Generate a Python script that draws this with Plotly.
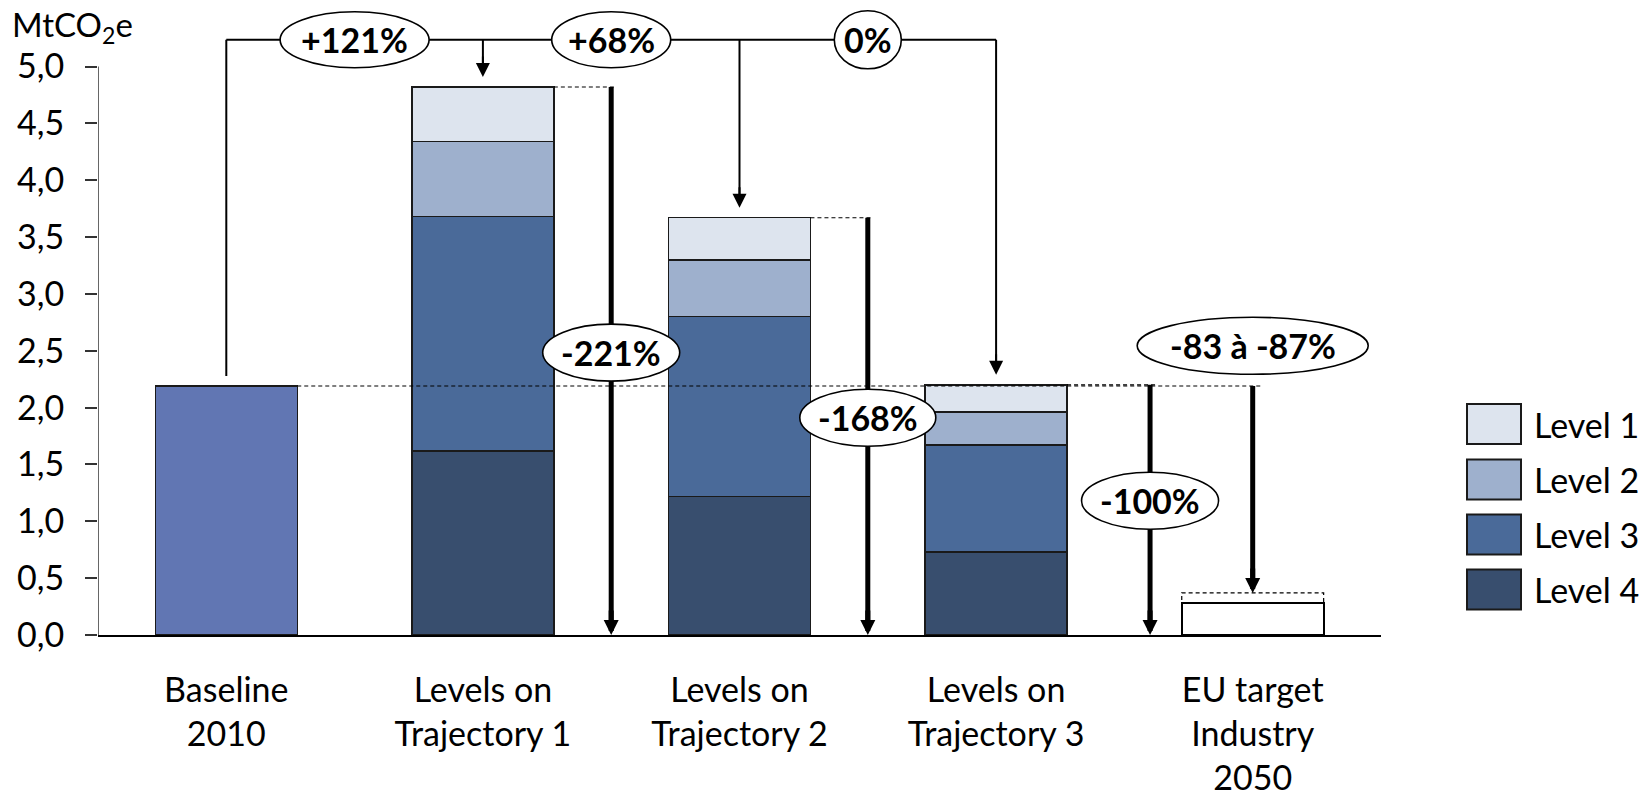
import plotly.graph_objects as go

# ---- data -------------------------------------------------------------
categories = [
    "Baseline<br>2010",
    "Levels on<br>Trajectory 1",
    "Levels on<br>Trajectory 2",
    "Levels on<br>Trajectory 3",
    "EU target<br>Industry<br>2050",
]
baseline_2010 = 2.19                      # MtCO2e
level_names = ["Level 1", "Level 2", "Level 3", "Level 4"]
# one value per trajectory (1, 2, 3)
level_1 = [0.48, 0.37, 0.24]
level_2 = [0.66, 0.50, 0.29]
level_3 = [2.06, 1.58, 0.94]
level_4 = [1.62, 1.22, 0.73]
eu_target_low = 0.285                     # -87 %
eu_target_high = 0.37                     # -83 %

y_tick_vals = [0.0, 0.5, 1.0, 1.5, 2.0, 2.5, 3.0, 3.5, 4.0, 4.5, 5.0]
y_tick_text = ["0,0", "0,5", "1,0", "1,5", "2,0", "2,5", "3,0", "3,5", "4,0", "4,5", "5,0"]

change_top = ["+121%", "+68%", "0%"]
change_down = ["-221%", "-168%", "-100%"]
change_eu = "-83 à -87%"

# ---- styling ----------------------------------------------------------
FONT = "Lato"
FS = 33
colors = {"Level 1": "#dde4ee", "Level 2": "#9eb0cd",
          "Level 3": "#4a6a99", "Level 4": "#384e6e"}
BASE_COLOR = "#6176b3"
EDGE = "#1a1a1a"
BARGAP = 0.447
HW = (1 - BARGAP) / 2                     # half bar width in category units

# plot-area geometry (pixels)
W, H = 1640, 797
ML, MR, MT, MB = 98, 259, 4, 162
PW, PH = W - ML - MR, H - MT - MB
Y_MAX = 5.55


def px_x(px):
    return (px - ML) / PW


def px_y(py):
    return (MT + PH - py) / PH


traj_x = categories[1:4]
series = {"Level 4": level_4, "Level 3": level_3, "Level 2": level_2, "Level 1": level_1}
totals = [a + b + c + d for a, b, c, d in zip(level_1, level_2, level_3, level_4)]

fig = go.Figure()

fig.add_trace(go.Bar(x=[categories[0]], y=[baseline_2010], marker=dict(
    color=BASE_COLOR, line=dict(color=EDGE, width=1.5)), name="Baseline"))

for name in ["Level 4", "Level 3", "Level 2", "Level 1"]:
    fig.add_trace(go.Bar(x=traj_x, y=series[name], name=name,
                         marker=dict(color=colors[name], line=dict(color=EDGE, width=1.5))))

fig.add_trace(go.Bar(x=[categories[4]], y=[eu_target_low], name="EU target",
                     marker=dict(color="white", line=dict(color="black", width=2))))

shapes = []


def line(x0, y0, x1, y1, width=2, dash=None, color="black"):
    d = dict(color=color, width=width)
    if dash:
        d["dash"] = dash
    shapes.append(dict(type="line", xref="x", yref="y", x0=x0, y0=y0, x1=x1, y1=y1, line=d))


# dashed range box of the EU target (behind the white bar)
shapes.append(dict(type="rect", xref="x", yref="y", layer="below",
                   x0=4 - HW, x1=4 + HW, y0=0, y1=eu_target_high,
                   line=dict(color="black", width=1.2, dash="4px,3px"), fillcolor="white"))

# y axis line
line(-0.5, 0, -0.5, 5, width=1.5, color="#333333")

# dashed reference levels
DASH = "4px,3px"
line(HW, baseline_2010, 4.035, baseline_2010, width=1.2, dash=DASH)
line(1 + HW, totals[0], 1.515, totals[0], width=1.2, dash=DASH)
line(2 + HW, totals[1], 2.515, totals[1], width=1.2, dash=DASH)
line(3 + HW, totals[2], 3.62, totals[2], width=1.2, dash=DASH)

# connectors across the top
GAP = 0.088
Y_LINK = 5.235
line(0, baseline_2010 + GAP, 0, Y_LINK)
line(0, Y_LINK, 3, Y_LINK)
line(1, Y_LINK, 1, totals[0] + GAP + 0.06)
line(2, Y_LINK, 2, totals[1] + GAP + 0.06)
line(3, Y_LINK, 3, totals[2] + GAP + 0.06)

# thick reduction arrows
drops = [(1.5, totals[0], 0.0), (2.5, totals[1], 0.0), (3.6, totals[2], 0.0),
         (4.0, baseline_2010, eu_target_high)]
for x, y_from, y_to in drops:
    line(x, y_from, x, y_to + 0.07, width=5)


def ellipse(xc, yc, w, h):
    shapes.append(dict(type="circle", xref="x", yref="y", xsizemode="pixel", ysizemode="pixel",
                       xanchor=xc, yanchor=yc, x0=-w / 2, x1=w / 2, y0=-h / 2, y1=h / 2,
                       fillcolor="white", line=dict(color="black", width=1.6)))


annotations = []


def label(xc, yc, text):
    annotations.append(dict(x=xc, y=yc, xref="x", yref="y", text="<b>" + text + "</b>",
                            showarrow=False, font=dict(family=FONT, size=FS + 1, color="black"),
                            xanchor="center", yanchor="middle"))


top_marks = [(0.5, 149, 56), (1.5, 119, 56), (2.5, 67, 58)]
for (xc, w, h), txt in zip(top_marks, change_top):
    ellipse(xc, Y_LINK, w, h)
    label(xc, Y_LINK, txt)

down_marks = [(1.5, 2.484, 137), (2.5, 1.911, 136), (3.6, 1.181, 137)]
for (xc, yc, w), txt in zip(down_marks, change_down):
    ellipse(xc, yc, w, 57)
    label(xc, yc, txt)

ellipse(4.0, 2.544, 231, 57)
label(4.0, 2.544, change_eu)

# arrowheads
for x, tip in [(1, totals[0] + GAP), (2, totals[1] + GAP), (3, totals[2] + GAP)]:
    annotations.append(dict(x=x, y=tip, xref="x", yref="y", ax=0, ay=-22, text="",
                            showarrow=True, arrowhead=2, arrowwidth=2, arrowsize=1.4,
                            arrowcolor="black"))
for x, _, y_to in drops:
    annotations.append(dict(x=x, y=y_to, xref="x", yref="y", ax=0, ay=-26, text="",
                            showarrow=True, arrowhead=2, arrowwidth=5, arrowsize=0.6,
                            arrowcolor="black"))

# unit label
annotations.append(dict(x=px_x(10), y=px_y(26), xref="paper", yref="paper",
                        text="MtCO<sub>2</sub>e", showarrow=False, xanchor="left",
                        yanchor="middle", font=dict(family=FONT, size=FS, color="black")))

# legend
leg_top = [404, 459.5, 514.5, 569.5]
for name, top in zip(level_names, leg_top):
    shapes.append(dict(type="rect", xref="paper", yref="paper",
                       x0=px_x(1467), x1=px_x(1521), y0=px_y(top + 40), y1=px_y(top),
                       fillcolor=colors[name], line=dict(color=EDGE, width=2)))
    annotations.append(dict(x=px_x(1532), y=px_y(top + 20), xref="paper", yref="paper",
                            text=name, showarrow=False, xanchor="left", yanchor="middle",
                            font=dict(family=FONT, size=FS + 1, color="black")))

fig.update_layout(
    width=W, height=H,
    margin=dict(l=ML, r=MR, t=MT, b=MB, pad=0, autoexpand=False),
    paper_bgcolor="white", plot_bgcolor="white",
    barmode="stack", bargap=BARGAP, showlegend=False,
    font=dict(family=FONT, size=FS, color="black"),
    shapes=shapes, annotations=annotations, hovermode=False,
    xaxis=dict(type="category", categoryorder="array", categoryarray=categories,
               range=[-0.5, 4.5], showline=True, linecolor="black", linewidth=2,
               ticks="", showgrid=False, zeroline=False, ticklabelstandoff=24,
               automargin=False,
               tickfont=dict(family=FONT, size=FS + 1, color="black")),
    yaxis=dict(range=[0, Y_MAX], tickvals=y_tick_vals, ticktext=y_tick_text,
               ticks="outside", ticklen=12, tickwidth=1.5, tickcolor="#333333",
               showline=False, showgrid=False, zeroline=False, ticklabelstandoff=14,
               automargin=False,
               tickfont=dict(family=FONT, size=FS + 1, color="black")),
)

fig.write_html("out.html")
